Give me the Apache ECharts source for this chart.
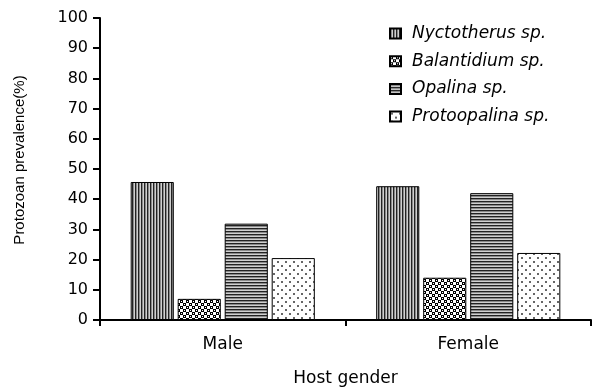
<!DOCTYPE html>
<html>
<head>
<meta charset="utf-8">
<script src="https://cdn.jsdelivr.net/npm/echarts@6/dist/echarts.min.js"></script>
<style>
  html, body { margin: 0; padding: 0; background: #fff; }
  #chart { width: 592px; height: 388px; }
</style>
</head>
<body>
<div id="chart"></div>
<script>
// data
var genders = ['Male', 'Female']
var speciesNames = ['Nyctotherus sp.', 'Balantidium sp.', 'Opalina sp.', 'Protoopalina sp.']
var nyctotherus = [45.7, 44.3]
var balantidium = [7.0, 14.0]
var opalina = [31.9, 42.0]
var protoopalina = [20.5, 22.2]
var yTicks = [0, 10, 20, 30, 40, 50, 60, 70, 80, 90, 100]

var wideFont = 'DejaVu Sans, Liberation Sans, sans-serif'

// little canvas tiles used as bar fills
function makeTile(w, h, draw) {
  var c = document.createElement('canvas')
  c.width = w
  c.height = h
  var ctx = c.getContext('2d')
  ctx.fillStyle = '#fff'
  ctx.fillRect(0, 0, w, h)
  draw(ctx)
  return { image: c, repeat: 'repeat' }
}

var vStripes = makeTile(3, 3, function (ctx) {
  ctx.fillStyle = '#222'; ctx.fillRect(0, 0, 1, 3)
  ctx.fillStyle = '#8a8a8a'; ctx.fillRect(1, 0, 1, 3)
  ctx.fillStyle = '#d0d0d0'; ctx.fillRect(2, 0, 1, 3)
})
var checker = makeTile(6, 6, function (ctx) {
  ctx.fillStyle = '#000'
  ctx.fillRect(0, 0, 3, 3)
  ctx.fillRect(3, 3, 3, 3)
  ctx.fillStyle = '#fff'
  ctx.fillRect(1, 1, 1, 1)
  ctx.fillRect(4, 4, 1, 1)
})
var hStripes = makeTile(3, 3, function (ctx) {
  ctx.fillStyle = '#222'; ctx.fillRect(0, 0, 3, 1)
  ctx.fillStyle = '#8a8a8a'; ctx.fillRect(0, 1, 3, 1)
  ctx.fillStyle = '#d0d0d0'; ctx.fillRect(0, 2, 3, 1)
})
var dots = makeTile(8, 8, function (ctx) {
  ctx.fillStyle = '#666'
  ctx.fillRect(1, 1, 2, 2)
  ctx.fillRect(5, 5, 2, 2)
})

var fills = [vStripes, checker, hStripes, dots]
var values = [nyctotherus, balantidium, opalina, protoopalina]

var chart = echarts.init(document.getElementById('chart'), null, { renderer: 'canvas' })

var series = speciesNames.map(function (name, i) {
  return {
    name: name,
    type: 'bar',
    data: values[i],
    barGap: '9%',
    barCategoryGap: '25%',
    itemStyle: { color: fills[i], borderColor: '#000', borderWidth: 1 }
  }
})

chart.setOption({
  animation: false,
  textStyle: { fontFamily: wideFont, color: '#000' },
  grid: { left: 100, right: 1, top: 18, bottom: 68, outerBoundsMode: 'none', containLabel: false },
  legend: {
    orient: 'vertical',
    left: 384,
    top: 20,
    itemWidth: 11,
    itemHeight: 10,
    itemGap: 10.7,
    icon: 'rect',
    textStyle: { fontStyle: 'italic', fontSize: 17, color: '#000', fontFamily: wideFont, padding: [0, 0, 0, 6] },
    data: speciesNames
  },
  xAxis: {
    type: 'category',
    data: genders,
    name: 'Host gender',
    nameLocation: 'middle',
    nameGap: 50,
    nameTextStyle: { fontSize: 17, color: '#000', fontFamily: wideFont },
    axisLine: { lineStyle: { color: '#000', width: 2 } },
    axisTick: { show: true, length: 6, lineStyle: { color: '#000', width: 2 } },
    axisLabel: { fontSize: 17, color: '#000', margin: 16, fontFamily: wideFont }
  },
  yAxis: {
    type: 'value',
    min: yTicks[0],
    max: yTicks[yTicks.length - 1],
    interval: 10,
    name: 'Protozoan prevalence(%)',
    nameLocation: 'middle',
    nameGap: 73,
    nameTextStyle: { fontSize: 15, color: '#000', fontFamily: 'Liberation Sans, Arial, sans-serif', padding: [0, 0, 0, 18] },
    splitLine: { show: false },
    axisLine: { show: true, lineStyle: { color: '#000', width: 2 } },
    axisTick: { show: true, length: 7, lineStyle: { color: '#000', width: 2 } },
    axisLabel: { fontSize: 16, color: '#000', margin: 12, fontFamily: wideFont }
  },
  series: series
})
</script>
</body>
</html>
